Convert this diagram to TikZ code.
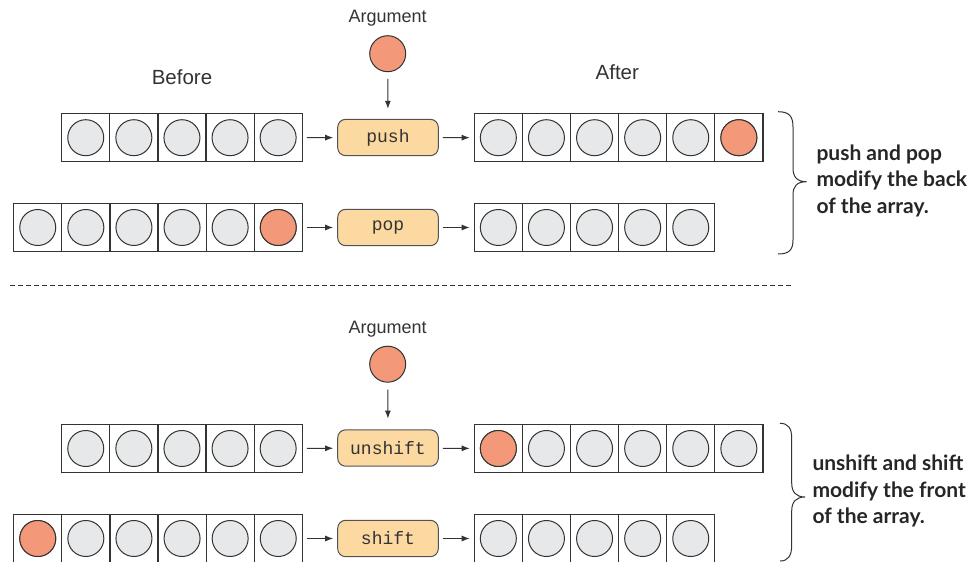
\documentclass[tikz,border=0pt]{standalone}
\usepackage{fontspec}
\setmainfont{Liberation Sans}
\setmonofont{Liberation Mono}
\newfontfamily\notefont{Lato}
\usetikzlibrary{arrows.meta}
\definecolor{ballgray}{HTML}{E6E8E9}
\definecolor{argorange}{HTML}{F4987A}
\definecolor{opfill}{HTML}{FDD9A2}
\definecolor{inkgray}{HTML}{333333}
\tikzset{
    cell/.style={draw=inkgray, line width=1.2pt, minimum size=48.1pt, inner sep=0pt},
    ball/.style={circle, draw=inkgray, line width=1pt, fill=ballgray, minimum size=36pt, inner sep=0pt},
    hot/.style={ball, fill=argorange},
    opbox/.style={draw=inkgray!85, line width=1pt, fill=opfill, rounded corners=8pt,
        minimum width=100.6pt, minimum height=36.4pt, inner sep=0pt,
        font=\ttfamily\fontsize{18}{20}\selectfont, text=inkgray},
    flow/.style={-{Latex[length=8pt,width=6pt]}, line width=1pt, draw=inkgray,
        shorten <=4pt, shorten >=4pt},
    heading/.style={font=\fontsize{20.5}{24}\selectfont, text=inkgray},
    argtext/.style={font=\fontsize{18}{20}\selectfont, text=inkgray},
    sidenote/.style={anchor=west, align=left, text=black!85,
        font=\notefont\bfseries\fontsize{21}{26.5}\selectfont},
    bracket/.style={line width=1pt, draw=inkgray}
}

\begin{document}
\begin{tikzpicture}[x=1pt, y=-1pt]
    \useasboundingbox (0,0) rectangle (978,562);

    % top half: push and pop
    \node[argtext] (argA) at (387.7,18.3) {Argument};
    \node[heading] (before) at (182,77) {Before};
    \node[heading] (after) at (617.3,71.7) {After};
    \node[hot] (argballA) at (387.7,53.7) {};

    \foreach \i in {1,...,5}
    {
        \node[cell] (pushin\i) at ({85.75+48.1*(\i-1)},137.7) {};
        \node[ball] at (pushin\i) {};
    }
    \foreach \i in {1,...,6}
    {
        \node[cell] (pushout\i) at ({498.35+48.1*(\i-1)},137.7) {};
        \node[ball] at (pushout\i) {};
    }
    \node[hot] at (pushout6) {};

    \foreach \i in {1,...,6}
    {
        \node[cell] (popin\i) at ({37.75+48.1*(\i-1)},227.5) {};
        \node[ball] at (popin\i) {};
    }
    \node[hot] at (popin6) {};
    \foreach \i in {1,...,5}
    {
        \node[cell] (popout\i) at ({498.35+48.1*(\i-1)},227.5) {};
        \node[ball] at (popout\i) {};
    }

    \node[opbox] (push) at (388,137.5) {push};
    \node[opbox] (pop) at (388,227.5) {pop};

    \draw[flow, shorten <=6.6pt, shorten >=10pt] (argballA) -- (push);
    \draw[flow] (pushin5) -- (push);
    \draw[flow] (push) -- (pushout1);
    \draw[flow] (popin6) -- (pop);
    \draw[flow] (pop) -- (popout1);

    \draw[bracket] (778,111.7) .. controls (789,111.7) and (793,116) .. (793,127) -- (793,168)
        .. controls (793,177) and (797,181.7) .. (806.7,181.7)
        .. controls (797,181.7) and (793,186) .. (793,195) -- (793,240)
        .. controls (793,250) and (789,254) .. (778,254);
    \node[sidenote] (noteA) at (813,180.5) {push and pop\\modify the back\\of the array.};

    % separator
    \draw[inkgray, line width=1pt, dash pattern=on 5pt off 3pt] (10,285.7) -- (791.7,285.7);

    % bottom half: unshift and shift
    \node[argtext] (argB) at (387.7,329) {Argument};
    \node[hot] (argballB) at (387.7,364.2) {};

    \foreach \i in {1,...,5}
    {
        \node[cell] (unshin\i) at ({85.75+48.1*(\i-1)},448.5) {};
        \node[ball] at (unshin\i) {};
    }
    \foreach \i in {1,...,6}
    {
        \node[cell] (unshout\i) at ({498.35+48.1*(\i-1)},448.5) {};
        \node[ball] at (unshout\i) {};
    }
    \node[hot] at (unshout1) {};

    \foreach \i in {1,...,6}
    {
        \node[cell] (shin\i) at ({37.75+48.1*(\i-1)},538.5) {};
        \node[ball] at (shin\i) {};
    }
    \node[hot] at (shin1) {};
    \foreach \i in {1,...,5}
    {
        \node[cell] (shout\i) at ({498.35+48.1*(\i-1)},538.5) {};
        \node[ball] at (shout\i) {};
    }

    \node[opbox] (unshift) at (388,448) {unshift};
    \node[opbox] (shift) at (388,538.5) {shift};

    \draw[flow, shorten <=7pt, shorten >=10.7pt] (argballB) -- (unshift);
    \draw[flow] (unshin5) -- (unshift);
    \draw[flow] (unshift) -- (unshout1);
    \draw[flow] (shin6) -- (shift);
    \draw[flow] (shift) -- (shout1);

    \draw[bracket] (780,423.3) .. controls (788,423.3) and (791.7,428) .. (791.7,438) -- (791.7,483)
        .. controls (791.7,492) and (796,497) .. (805,497)
        .. controls (796,497) and (791.7,502) .. (791.7,511) -- (791.7,545)
        .. controls (791.7,556) and (788,561) .. (780,561);
    \node[sidenote] (noteB) at (809,491) {unshift and shift\\modify the front\\of the array.};
\end{tikzpicture}
\end{document}
